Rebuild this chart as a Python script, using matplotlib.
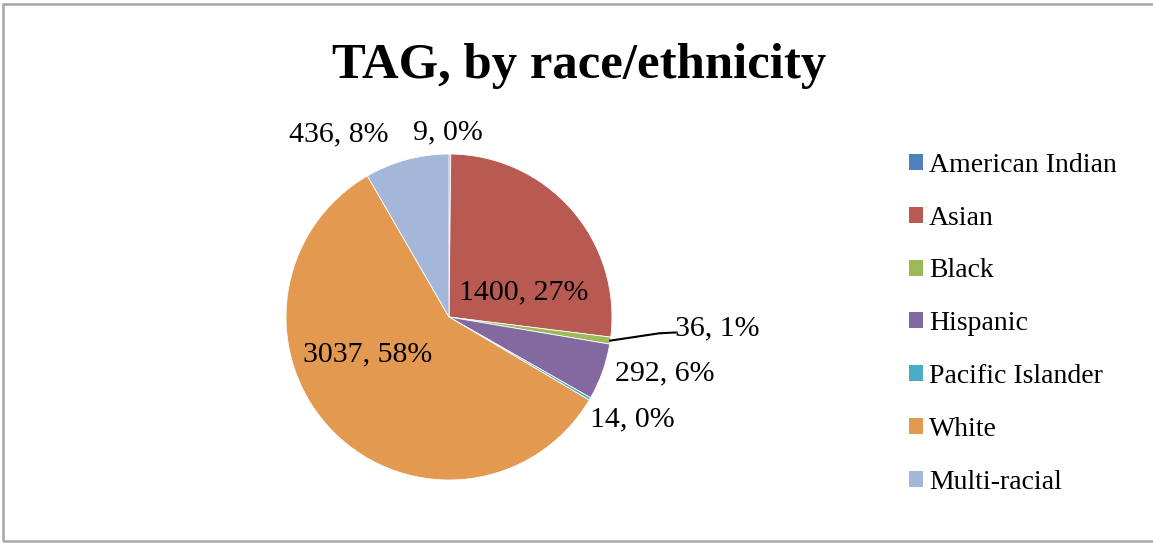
import numpy as np
import matplotlib
matplotlib.use("Agg")
import matplotlib.pyplot as plt
from matplotlib.patches import Rectangle, Patch

W, H = 1153, 543
SERIF = ["Liberation Serif", "DejaVu Serif"]

groups = ["American Indian", "Asian", "Black", "Hispanic",
          "Pacific Islander", "White", "Multi-racial"]
counts = [9, 1400, 36, 292, 14, 3037, 436]
colors = ["#4F81BD", "#B85A52", "#9BBB59", "#8468A0",
          "#4BACC6", "#E3994F", "#A3B7D8"]

# label placement per slice: (radius factor, angle nudge in degrees, clockwise from top)
label_pos = [(1.13, -0.6), (0.48, 23), (1.65, -6), (1.37, -5),
             (1.29, -1), (0.55, 20), (1.31, -16)]

fig = plt.figure(figsize=(W / 100, H / 100), dpi=100)

# outer chart frame
fig.patches.append(Rectangle((2.5 / W, 2 / H), 1.2, 1 - 5.5 / H, transform=fig.transFigure,
                             fill=False, ec="#a6a6a6", lw=1.8))

cx, cy, r = 449, 317, 163
ax = fig.add_axes([(cx - r) / W, (H - cy - r) / H, 2 * r / W, 2 * r / H])

ax.pie(counts, colors=colors, startangle=90, counterclock=False, radius=1,
       wedgeprops=dict(lw=0.6, ec="white"))
ax.set_xlim(-1, 1); ax.set_ylim(-1, 1); ax.set_aspect("equal")
ax.axis("off")

total = sum(counts)
cum = np.cumsum([0] + counts)
for i, v in enumerate(counts):
    mid = (cum[i] + cum[i + 1]) / 2 / total * 360
    dist, nudge = label_pos[i]
    a = np.radians(mid + nudge)
    x, y = dist * np.sin(a), dist * np.cos(a)
    ax.text(x, y, f"{v}, {round(v / total * 100):.0f}%", ha="center", va="center",
            fontsize=21.5, family=SERIF, color="black", clip_on=False)
    if groups[i] == "Black":
        m = np.radians(mid)
        ex, ey = np.sin(m), np.cos(m)
        ax.plot([ex, ex + 0.3, ex + 0.4], [ey, ey + 0.045, ey + 0.05],
                color="black", lw=1.5, clip_on=False)

fig.text(579 / W, 1 - 66 / H, "TAG, by race/ethnicity", ha="center", va="center",
         fontsize=36.5, fontweight="bold", family=SERIF)

handles = [Patch(fc=c, ec="none") for c in colors]
fig.legend(handles, groups, loc="upper left", bbox_to_anchor=(895 / W, 1 - 139 / H),
           frameon=False, prop=dict(family=SERIF, size=20), handlelength=0.5,
           handleheight=0.5, handletextpad=0.22, labelspacing=1.0, borderpad=0)

fig.savefig("out.png", dpi=100)
